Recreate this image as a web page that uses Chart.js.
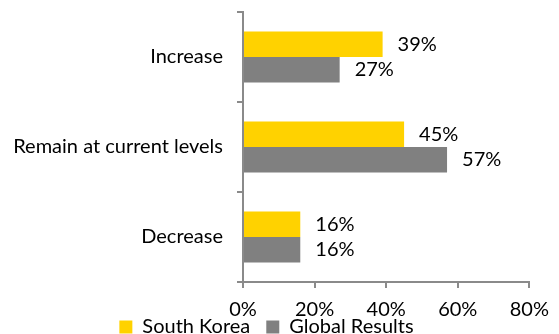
<!DOCTYPE html>
<html>
<head>
<meta charset="utf-8">
<script src="https://cdn.jsdelivr.net/npm/chart.js@4.4.1/dist/chart.umd.min.js"></script>
<style>
  html, body { margin: 0; padding: 0; background: #fff; overflow: hidden; }
  #wrap { position: relative; width: 559px; height: 364px; }
</style>
</head>
<body>
<div id="wrap"><canvas id="chart"></canvas></div>
<script>
// Survey answers, percent of respondents
const categories = ['Increase', 'Remain at current levels', 'Decrease'];
const southKorea = [39, 45, 16];
const globalResults = [27, 57, 16];
const xTicks = [0, 20, 40, 60, 80];

const FONT = 'Lato';
const AXIS = '#8a8a8a';

// Writes each bar's value just past its end
const valueLabels = {
  id: 'valueLabels',
  afterDatasetsDraw(chart) {
    const ctx = chart.ctx;
    ctx.save();
    ctx.font = '20px ' + FONT;
    ctx.fillStyle = '#000';
    ctx.textAlign = 'left';
    ctx.textBaseline = 'middle';
    chart.data.datasets.forEach((ds, di) => {
      chart.getDatasetMeta(di).data.forEach((bar, i) => {
        ctx.fillText(ds.data[i] + '%', bar.x + 15, bar.y);
      });
    });
    ctx.restore();
  }
};

// Pulls the legend up close under the axis labels
const legendLift = {
  id: 'legendLift',
  afterLayout(chart) {
    const lg = chart.legend;
    if (!lg) return;
    const pad = lg.options.labels.padding;
    const dy = lg.top - (chart.chartArea.bottom + 35 - pad);
    lg.top -= dy;
    lg.bottom -= dy;
  }
};

new Chart(document.getElementById('chart'), {
  type: 'bar',
  data: {
    labels: categories,
    datasets: [
      { label: 'South Korea', data: southKorea, backgroundColor: '#FFD200',
        categoryPercentage: 0.565, barPercentage: 1.0 },
      { label: 'Global Results', data: globalResults, backgroundColor: '#808080',
        categoryPercentage: 0.565, barPercentage: 1.0 }
    ]
  },
  options: {
    indexAxis: 'y',
    responsive: true,
    maintainAspectRatio: false,
    animation: false,
    layout: { padding: { left: 0, right: 26, top: 12, bottom: 0 } },
    scales: {
      x: {
        min: 0, max: 80,
        afterBuildTicks(scale) { scale.ticks = xTicks.map(v => ({ value: v })); },
        afterFit(scale) { scale.height = 36; },
        border: { display: true, color: AXIS, width: 2 },
        grid: { display: true, drawOnChartArea: false, drawTicks: true,
                tickLength: 6, color: AXIS, lineWidth: 2 },
        ticks: { color: '#000', font: { family: FONT, size: 20 }, padding: 10,
                 callback: v => v + '%' }
      },
      y: {
        afterFit(scale) {
          scale.width = 243;
          scale.paddingTop = 0;
          scale.paddingBottom = 0;
        },
        border: { display: true, color: AXIS, width: 2 },
        grid: { display: true, drawOnChartArea: false, drawTicks: true,
                tickLength: 6, color: AXIS, lineWidth: 2, offset: true },
        ticks: { color: '#000', font: { family: FONT, size: 20 }, padding: 14 }
      }
    },
    plugins: {
      legend: {
        position: 'bottom',
        labels: { boxWidth: 13, boxHeight: 13, color: '#000', padding: 16,
                  font: { family: FONT, size: 20 } }
      },
      tooltip: { enabled: false }
    }
  },
  plugins: [valueLabels, legendLift]
});
</script>
</body>
</html>
